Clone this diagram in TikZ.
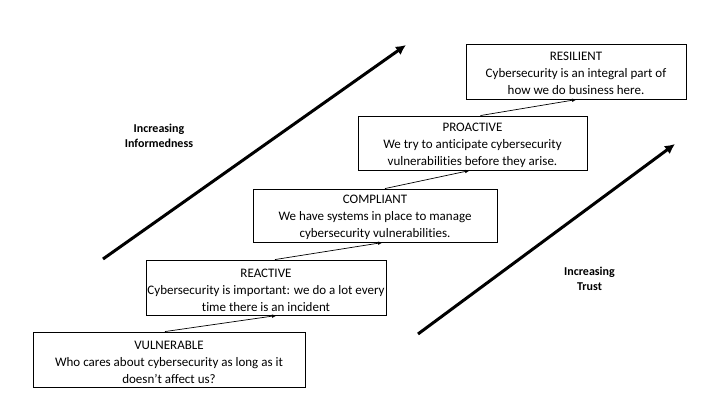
\documentclass[tikz,border=0pt]{standalone}
\usepackage{fontspec}
\setmainfont[Ligatures={NoCommon}]{Carlito}
\usetikzlibrary{arrows.meta,calc}
\tikzset{
  stage/.style={draw=black, line width=0.9pt, inner sep=0pt},
  stagetext/.style={align=center, inner sep=0pt,
    font=\fontsize{13}{17}\selectfont},
  link/.style={draw=black, line width=0.7pt, -{Latex[length=5pt,width=3.5pt]}},
  trend/.style={draw=black, line width=3pt, -{Latex[length=10pt,width=10pt]}},
  trendlabel/.style={align=center, font=\fontsize{12}{15}\selectfont\bfseries}
}
\begin{document}
\begin{tikzpicture}[x=1pt,y=-1pt]
\useasboundingbox[fill=white] (0,0) rectangle (720,405);

\node[stage, minimum width=272pt, minimum height=55pt] (vul) at (169,359.5) {};
\node[stagetext] (vult) at ([yshift=-2.5pt]vul.center)
  {VULNERABLE\\Who cares about cybersecurity as long as it\\doesn’t affect us?};
\node[stage, minimum width=240pt, minimum height=55pt] (rea) at (266,287.5) {};
\node[stagetext] (reat) at ([yshift=-2.5pt]rea.center)
  {REACTIVE\\Cybersecurity is important: we do a lot every\\time there is an incident};
\node[stage, minimum width=244pt, minimum height=53pt] (com) at (375,215.5) {};
\node[stagetext] (comt) at ([yshift=-2pt]com.center)
  {COMPLIANT\\We have systems in place to manage\\cybersecurity vulnerabilities.};
\node[stage, minimum width=229pt, minimum height=54pt] (pro) at (472.5,143) {};
\node[stagetext] (prot) at ([yshift=-2.5pt]pro.center)
  {PROACTIVE\\We try to anticipate cybersecurity\\vulnerabilities before they arise.};
\node[stage, minimum width=220pt, minimum height=55pt] (res) at (576,71.5) {};
\node[stagetext] (rest) at ([yshift=-2pt]res.center)
  {RESILIENT\\Cybersecurity is an integral part of\\how we do business here.};

\draw[link] ([xshift=-4pt]vul.north) -- ([xshift=11pt]rea.south);
\draw[link] ([xshift=9pt]rea.north) -- ([xshift=8pt]com.south);
\draw[link] ([xshift=10pt]com.north) -- ([xshift=-2.5pt]pro.south);
\draw[link] ([xshift=8pt]pro.north) -- ([xshift=1pt]res.south);

\coordinate (a1) at (103,259);
\coordinate (a2) at (406,45);
\coordinate (b1) at (418,334);
\coordinate (b2) at (675,144);
\draw[trend] (a1) -- (a2);
\draw[trend] (b1) -- (b2);

\node[trendlabel] (inf) at (159,136) {Increasing\\Informedness};
\node[trendlabel] (tru) at (589.5,278.5) {Increasing\\Trust};
\end{tikzpicture}
\end{document}
